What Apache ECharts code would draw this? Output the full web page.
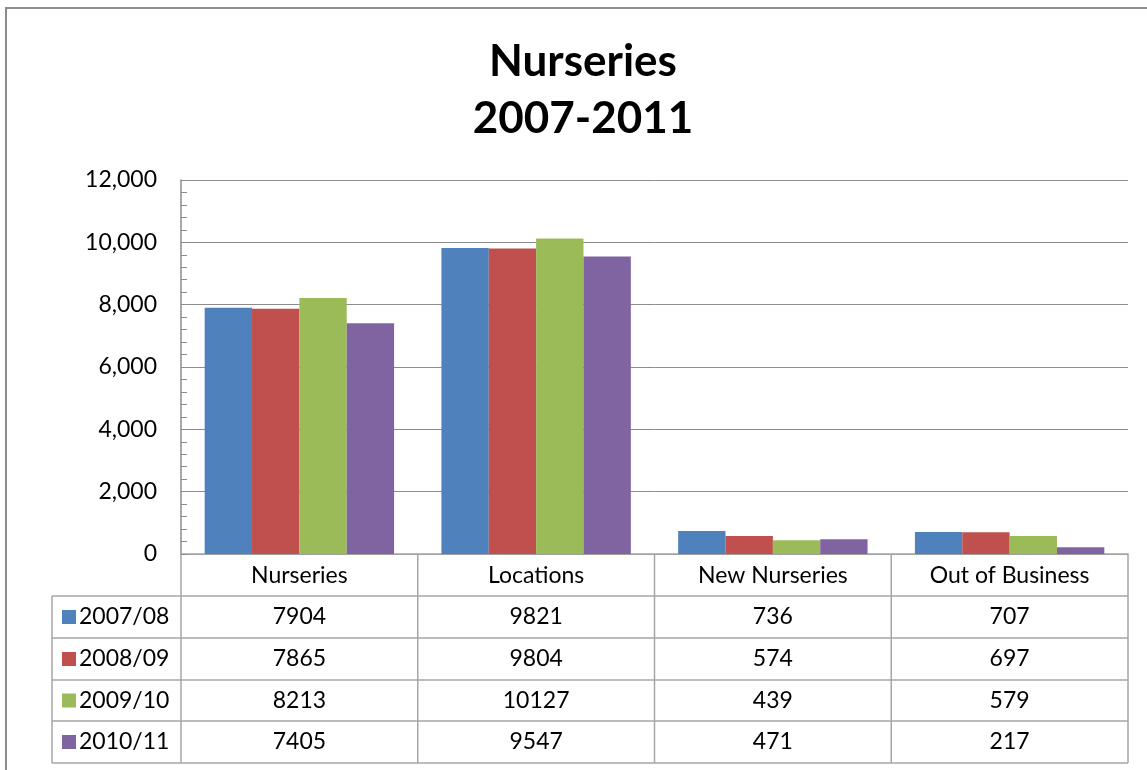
<!DOCTYPE html>
<html>
<head>
<meta charset="utf-8">
<script src="https://cdn.jsdelivr.net/npm/echarts@6/dist/echarts.min.js"></script>
<style>
html,body{margin:0;padding:0;background:#fff;}
#chart{width:1147px;height:770px;}
</style>
</head>
<body>
<div id="chart"></div>
<script>
const categories = ['Nurseries', 'Locations', 'New Nurseries', 'Out of Business'];
const seriesNames = ['2007/08', '2008/09', '2009/10', '2010/11'];
const v2007 = [7904, 9821, 736, 707];
const v2008 = [7865, 9804, 574, 697];
const v2009 = [8213, 10127, 439, 579];
const v2010 = [7405, 9547, 471, 217];
const colors = ['#4F81BD', '#C0504D', '#9BBB59', '#8064A2'];
const yTicks = [0, 2000, 4000, 6000, 8000, 10000, 12000];

const seriesValues = [v2007, v2008, v2009, v2010];

const W = 1147, H = 770;
const gridLeft = 181, gridRight = 1128, gridTop = 180, gridBottom = 554;
const tableLeft = 52;
const rowTops = [554, 596, 638, 680, 721, 763];
const lineColor = '#A6A6A6';
const font = 'Lato, "Open Sans", sans-serif';

const chart = echarts.init(document.getElementById('chart'), null, {renderer: 'canvas'});

const colW = (gridRight - gridLeft) / categories.length;
const graphics = [];

// outer border (only top/left visible)
graphics.push({type: 'rect', shape: {x: 6, y: 8, width: 1160, height: 800},
  style: {fill: 'none', stroke: '#8C8C8C', lineWidth: 2}, silent: true});

// horizontal table lines
for (let i = 1; i < rowTops.length; i++) {
  graphics.push({type: 'line', shape: {x1: tableLeft, y1: rowTops[i], x2: gridRight, y2: rowTops[i]},
    style: {stroke: lineColor, lineWidth: 1.5}, silent: true});
}
// vertical lines
for (let c = 0; c <= categories.length; c++) {
  const x = gridLeft + c * colW;
  graphics.push({type: 'line', shape: {x1: x, y1: rowTops[0], x2: x, y2: rowTops[5]},
    style: {stroke: lineColor, lineWidth: 1.5}, silent: true});
}
graphics.push({type: 'line', shape: {x1: tableLeft, y1: rowTops[1], x2: tableLeft, y2: rowTops[5]},
  style: {stroke: lineColor, lineWidth: 1.5}, silent: true});

// rows
for (let s = 0; s < seriesNames.length; s++) {
  const yc = (rowTops[s + 1] + rowTops[s + 2]) / 2;
  graphics.push({type: 'rect', shape: {x: 62, y: yc - 7, width: 14, height: 14},
    style: {fill: colors[s]}, silent: true});
  graphics.push({type: 'text', x: 79, y: yc, silent: true,
    style: {text: seriesNames[s], font: '23px ' + font, fill: '#000',
      textAlign: 'left', textVerticalAlign: 'middle'}});
  for (let c = 0; c < categories.length; c++) {
    graphics.push({type: 'text', x: gridLeft + (c + 0.5) * colW, y: yc, silent: true,
      style: {text: String(seriesValues[s][c]), font: '23px ' + font, fill: '#000',
        textAlign: 'center', textVerticalAlign: 'middle'}});
  }
}

const option = {
  animation: false,
  backgroundColor: '#fff',
  title: {
    text: 'Nurseries\n2007-2011',
    left: 578, top: 28, textAlign: 'center',
    textStyle: {fontFamily: font, fontWeight: 'bold', fontSize: 44, lineHeight: 57, color: '#000'}
  },
  grid: {left: gridLeft, right: W - gridRight, top: gridTop, bottom: H - gridBottom, containLabel: false},
  xAxis: {
    type: 'category',
    data: categories,
    axisLine: {show: true, lineStyle: {color: lineColor, width: 1.5}},
    axisTick: {show: false},
    axisLabel: {fontFamily: font, fontSize: 23, color: '#000', margin: 10, interval: 0},
    splitLine: {show: false}
  },
  yAxis: {
    type: 'value',
    min: yTicks[0], max: yTicks[yTicks.length - 1], interval: 2000,
    axisLine: {show: true, lineStyle: {color: '#8C8C8C', width: 1.5}},
    axisTick: {show: true, inside: true, length: 6, lineStyle: {color: '#8C8C8C'}},
    minorTick: {show: true, splitNumber: 5, length: 6, lineStyle: {color: '#8C8C8C', width: 1}},
    splitLine: {show: true, lineStyle: {color: '#8C8C8C', width: 1}},
    axisLabel: {fontFamily: font, fontSize: 23, color: '#000', margin: 24,
      formatter: v => v.toLocaleString('en-US')}
  },
  series: seriesNames.map((n, i) => ({
    name: n, type: 'bar', data: seriesValues[i],
    itemStyle: {color: colors[i]},
    barGap: '0%', barCategoryGap: '20%'
  })),
  graphic: graphics
};
chart.setOption(option);
</script>
</body>
</html>
